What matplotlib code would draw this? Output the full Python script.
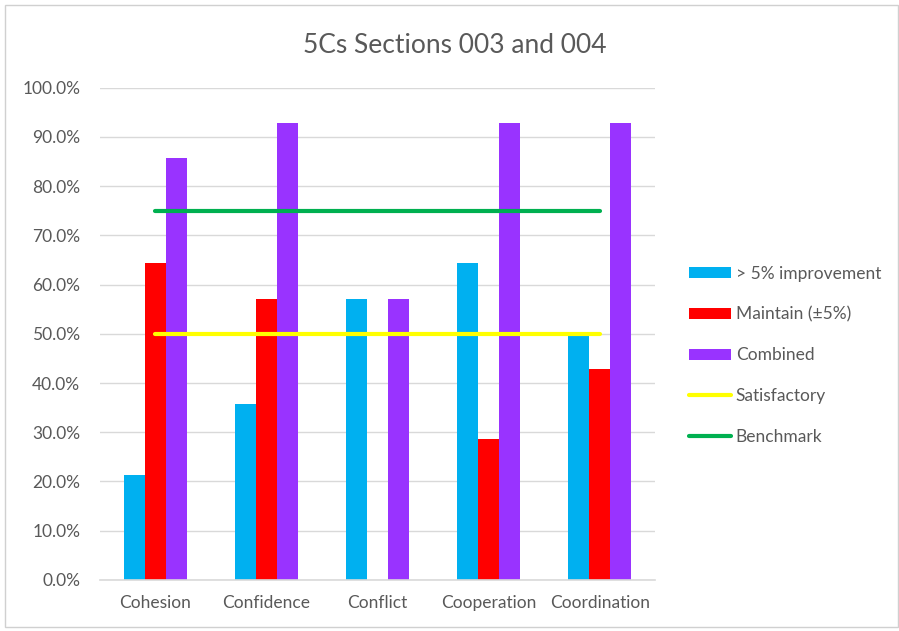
import matplotlib
matplotlib.use('Agg')
import matplotlib.pyplot as plt
from matplotlib.patches import Rectangle
from matplotlib.ticker import PercentFormatter
import numpy as np

categories = ['Cohesion', 'Confidence', 'Conflict', 'Cooperation', 'Coordination']
improvement = [0.214, 0.357, 0.571, 0.643, 0.500]
maintain = [0.643, 0.571, 0.0, 0.286, 0.429]
combined = [0.857, 0.929, 0.571, 0.929, 0.929]
satisfactory = [0.5, 0.5, 0.5, 0.5, 0.5]
benchmark = [0.75, 0.75, 0.75, 0.75, 0.75]

plt.rcParams['font.family'] = ['Lato', 'DejaVu Sans']
text_col = '#595959'
grid_col = '#d9d9d9'

fig = plt.figure(figsize=(8.99, 6.31), dpi=100)
ax = fig.add_axes([0.111, 0.081, 0.618, 0.780])

x = np.arange(len(categories))
w = 0.19
b1 = ax.bar(x - w, improvement, w, color='#00B0F0', label='> 5% improvement', zorder=2)
b2 = ax.bar(x, maintain, w, color='#FF0000', label='Maintain (\u00b15%)', zorder=2)
b3 = ax.bar(x + w, combined, w, color='#9933FF', label='Combined', zorder=2)
l1, = ax.plot(x, satisfactory, color='#FFFF00', lw=3, label='Satisfactory', zorder=3,
              solid_capstyle='round')
l2, = ax.plot(x, benchmark, color='#00B050', lw=3, label='Benchmark', zorder=3,
              solid_capstyle='round')

ax.set_xlim(-0.5, len(categories) - 0.5)
ax.set_ylim(0, 1.0)
ax.set_yticks(np.arange(0, 1.01, 0.1))
ax.yaxis.set_major_formatter(PercentFormatter(1.0, decimals=1))
ax.set_xticks(x)
ax.set_xticklabels(categories)
ax.grid(axis='y', color=grid_col, lw=1, zorder=0)
for s in ['top', 'right', 'left']:
    ax.spines[s].set_visible(False)
ax.spines['bottom'].set_color(grid_col)
ax.spines['bottom'].set_linewidth(1.2)
ax.tick_params(axis='both', length=0, labelsize=12.5, colors=text_col)
ax.tick_params(axis='y', pad=14)
ax.tick_params(axis='x', pad=11)

fig.text(0.506, 0.928, '5Cs Sections 003 and 004', ha='center', va='center',
         fontsize=19, color=text_col)

handles = [b1, b2, b3, l1, l2]
fig.legend(handles, [h.get_label() for h in handles],
           loc='center left', bbox_to_anchor=(0.749, 0.437), frameon=False,
           fontsize=12.5, labelcolor=text_col, handlelength=2.4,
           labelspacing=1.42, handletextpad=0.3, handleheight=0.6)

fig.patches.append(Rectangle((0.006, 0.006), 0.993, 0.986, transform=fig.transFigure,
                             fill=False, edgecolor='#d0d0d0', lw=1))

plt.savefig('out.png', dpi=100)
plt.close()
